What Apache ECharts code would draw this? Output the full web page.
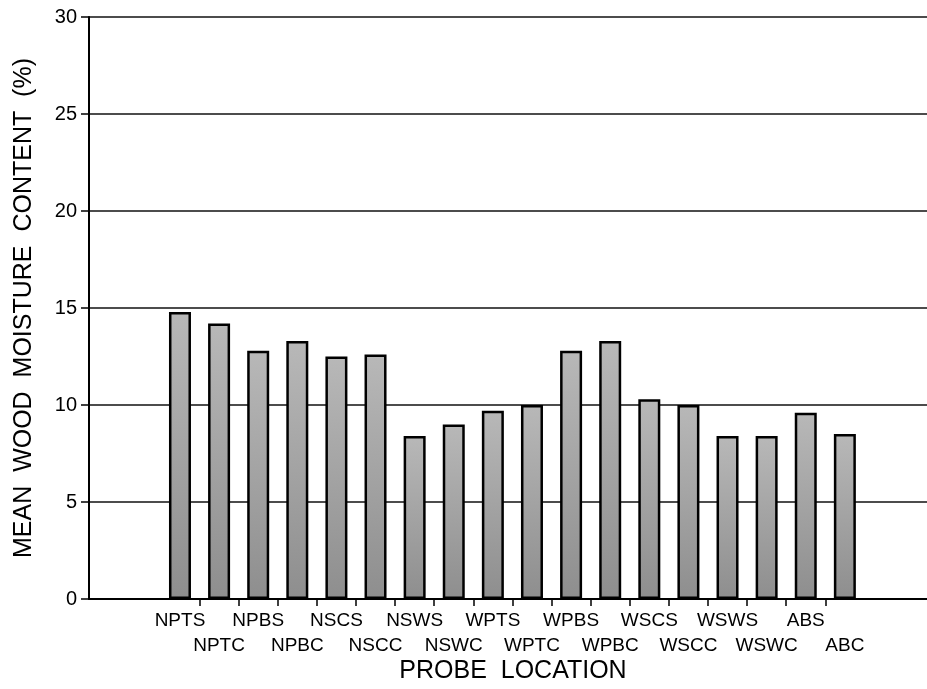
<!DOCTYPE html>
<html>
<head>
<meta charset="utf-8">
<script src="https://cdn.jsdelivr.net/npm/echarts@6/dist/echarts.min.js"></script>
<style>
  html, body { margin: 0; padding: 0; background: #ffffff; }
  #chart { width: 927px; height: 689px; }
</style>
</head>
<body>
<div id="chart"></div>
<script>
const categories = ['NPTS','NPTC','NPBS','NPBC','NSCS','NSCC','NSWS','NSWC','WPTS','WPTC','WPBS','WPBC','WSCS','WSCC','WSWS','WSWC','ABS','ABC'];
const moisture = [14.8, 14.2, 12.8, 13.3, 12.5, 12.6, 8.4, 9.0, 9.7, 10.0, 12.8, 13.3, 10.3, 10.0, 8.4, 8.4, 9.6, 8.5];
const yTicks = [0, 5, 10, 15, 20, 25, 30];

const FONT = 'Liberation Sans, Arial, Helvetica, sans-serif';
// bar slot positions: category i is drawn at x = i + 1 on a value axis
const barData = moisture.map((v, i) => [i + 1, v]);
const upperLabelPos = [];
const lowerLabelPos = [];
categories.forEach((c, i) => { (i % 2 === 0 ? upperLabelPos : lowerLabelPos).push(i + 1); });
const tickPositions = categories.slice(1).map((c, i) => i + 1.5);

const X_MIN = -1.326, X_MAX = 20.10;
function catName(v) { return categories[Math.round(v) - 1] || ''; }

const chart = echarts.init(document.getElementById('chart'), null, { renderer: 'canvas' });
chart.setOption({
  animation: false,
  backgroundColor: '#ffffff',
  grid: { left: 89, right: 0, top: 17, bottom: 88, containLabel: false },
  xAxis: [{
    type: 'value',
    min: X_MIN,
    max: X_MAX,
    position: 'bottom',
    offset: 0,
    name: 'PROBE  LOCATION',
    nameLocation: 'middle',
    nameGap: 60,
    nameTextStyle: { fontFamily: FONT, fontSize: 25, color: '#000', padding: [0, 0, 0, 10] },
    splitLine: { show: false },
    axisLine: { show: true, onZero: false, lineStyle: { color: '#000', width: 2 } },
    axisTick: { show: false },
    axisLabel: {
      show: true,
      customValues: upperLabelPos,
      margin: 12,
      fontFamily: FONT,
      fontSize: 19,
      color: '#000',
      formatter: catName
    }
  }, {
    type: 'value',
    min: X_MIN,
    max: X_MAX,
    position: 'bottom',
    offset: 0,
    splitLine: { show: false },
    axisLine: { show: false, onZero: false },
    axisTick: { show: false },
    axisLabel: {
      show: true,
      customValues: lowerLabelPos,
      margin: 37,
      fontFamily: FONT,
      fontSize: 19,
      color: '#000',
      formatter: catName
    }
  }, {
    type: 'value',
    min: X_MIN,
    max: X_MAX,
    position: 'bottom',
    offset: 0,
    splitLine: { show: false },
    axisLine: { show: false, onZero: false },
    axisTick: { show: true, length: 7, lineStyle: { color: '#000', width: 1.5 }, customValues: tickPositions },
    axisLabel: { show: false }
  }],
  yAxis: {
    type: 'value',
    min: 0,
    max: 30,
    interval: 5,
    name: 'MEAN  WOOD  MOISTURE  CONTENT  (%)',
    nameLocation: 'middle',
    nameGap: 52,
    nameRotate: 90,
    nameTextStyle: { fontFamily: FONT, fontSize: 25, color: '#000' },
    axisLine: { show: true, onZero: false, lineStyle: { color: '#000', width: 2 } },
    axisTick: { show: true, inside: false, length: 8, lineStyle: { color: '#000', width: 1.5 } },
    axisLabel: {
      margin: 12,
      fontFamily: FONT,
      fontSize: 20,
      color: '#000',
      formatter: function (v) { return yTicks.indexOf(v) >= 0 ? String(v) : ''; }
    },
    splitLine: { show: true, lineStyle: { color: '#111', width: 1.5 } }
  },
  series: [{
    type: 'bar',
    xAxisIndex: 0,
    data: barData,
    barWidth: 22,
    itemStyle: {
      color: new echarts.graphic.LinearGradient(0, 0, 0, 1, [
        { offset: 0, color: '#b8b8b8' },
        { offset: 1, color: '#8e8e8e' }
      ]),
      borderColor: '#000',
      borderWidth: 2.5
    }
  }]
});
</script>
</body>
</html>
